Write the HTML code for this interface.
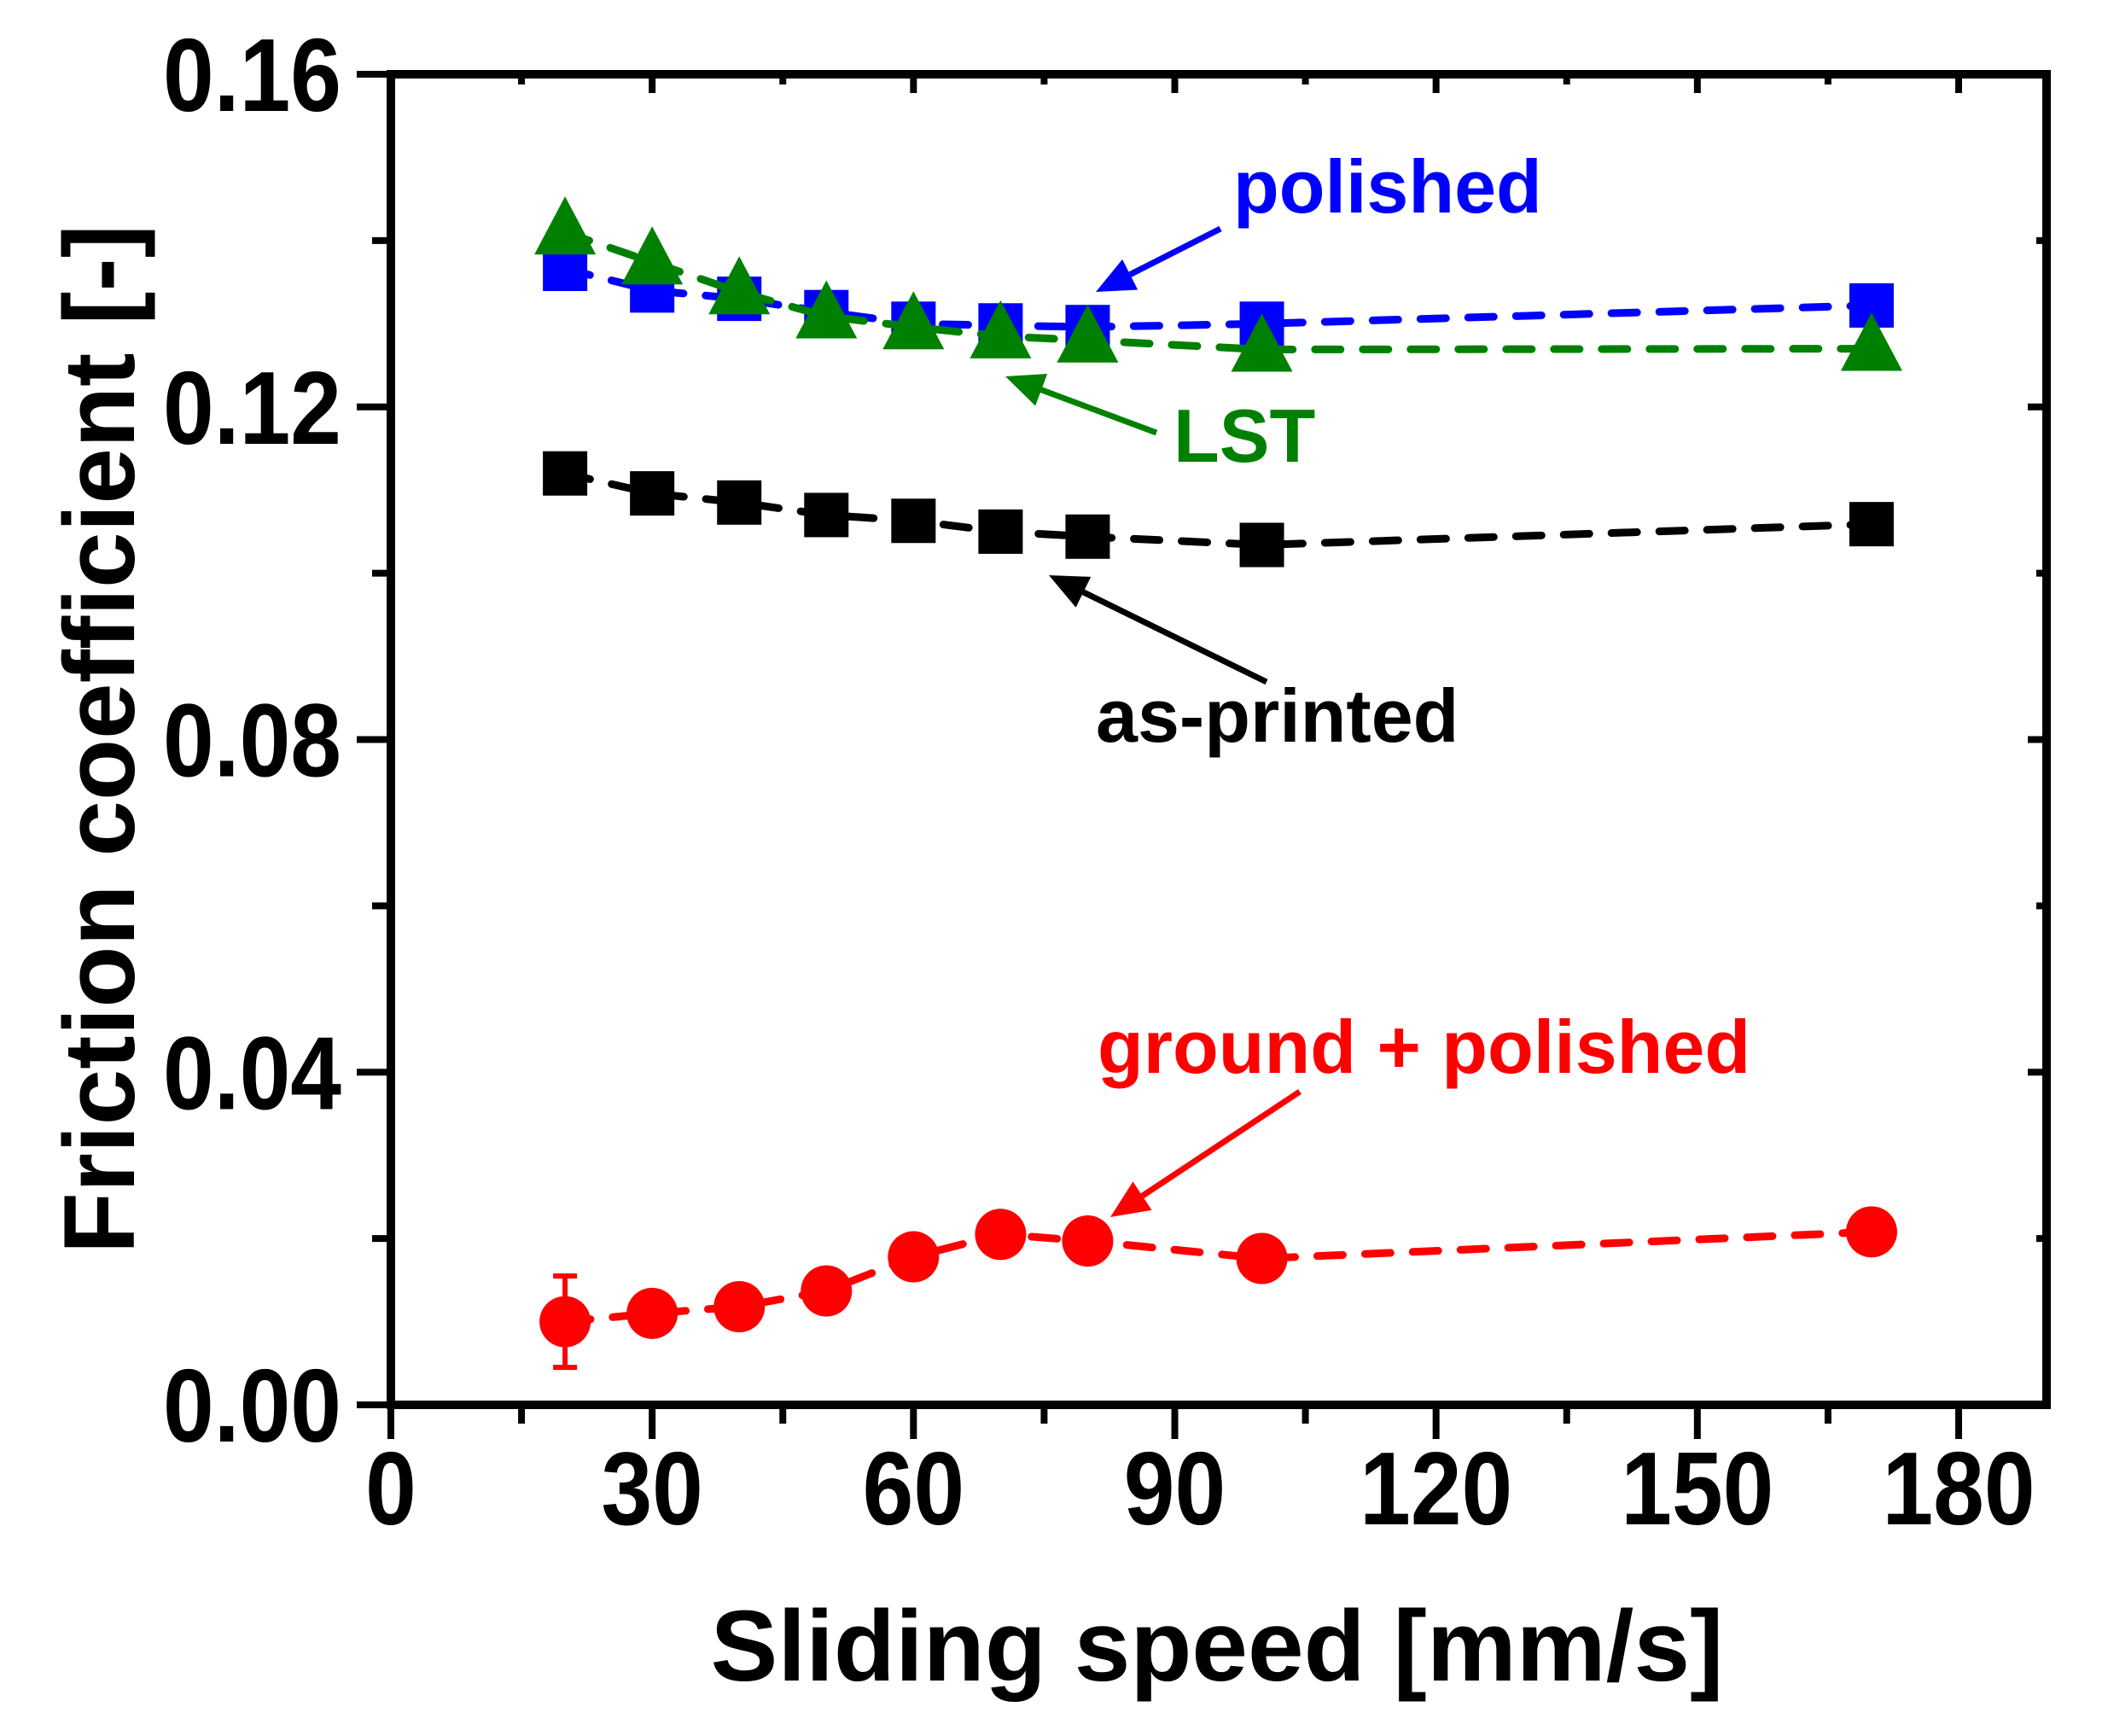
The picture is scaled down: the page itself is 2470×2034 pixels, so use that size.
<!DOCTYPE html>
<html><head><meta charset="utf-8"><style>
html,body{margin:0;padding:0;background:#fff}
svg{display:block}
text{font-family:"Liberation Sans",Arial,sans-serif;font-weight:bold}
</style></head><body>
<svg id="chart" width="2470" height="2034" viewBox="0 0 2470 2034" xmlns="http://www.w3.org/2000/svg">
<g id="marks"></g>
<g id="axes"></g>
<text x="1426" y="1969" font-size="118" text-anchor="middle">Sliding speed [mm/s]</text>
<text transform="translate(157,866) rotate(-90)" font-size="118" text-anchor="middle">Friction coefficient [-]</text>
<text x="1445" y="249" font-size="88" fill="#0000ff">polished</text>
<text x="1375" y="541" font-size="88" fill="#008000">LST</text>
<text x="1284" y="869" font-size="88" fill="#000">as-printed</text>
<text x="1286" y="1257" font-size="88" fill="#ff0000">ground + polished</text>
</svg>
<script>
const speeds=[20,30,40,50,60,70,80,100,170];
const asPrinted=[0.112,0.1096,0.1085,0.107,0.1063,0.105,0.1044,0.1034,0.1059];
const polished=[0.1366,0.134,0.133,0.1314,0.130,0.1298,0.1296,0.130,0.1322];
const lst=[0.141,0.1374,0.1338,0.1309,0.1296,0.1285,0.128,0.1269,0.127];
const groundPolished=[0.010,0.011,0.0118,0.0137,0.0178,0.0205,0.0197,0.0176,0.0208];
const groundErr=[0.0055,0,0,0,0,0,0,0,0];
const xTicks=[0,30,60,90,120,150,180];
const yTicks=[0,0.04,0.08,0.12,0.16];
const yTickLabels=["0.00","0.04","0.08","0.12","0.16"];

const NS="http://www.w3.org/2000/svg";
const X0=458,X1=2398,Y0=1646,Y1=87;
const xs=v=>X0+v*(2295-458)/180;
const ys=v=>Y0-v*(Y0-Y1)/0.16;
function mk(tag,attrs,parent){const e=document.createElementNS(NS,tag);for(const k in attrs)e.setAttribute(k,attrs[k]);parent.appendChild(e);return e;}
const marks=document.getElementById('marks'),axes=document.getElementById('axes');

function series(name,vals,color,shape){
  const g=mk('g',{},marks);
  
  
  const pts=speeds.map((s,i)=>xs(s)+','+ys(vals[i])).join(' ');
  const ln=mk('polyline',{points:pts,fill:'none',stroke:color,'stroke-width':9,'stroke-dasharray':'30,26','stroke-linecap':'round'},g);
  
  
  speeds.forEach((s,i)=>{
    const cx=xs(s),cy=ys(vals[i]);let m;
    if(shape==='square')m=mk('rect',{x:cx-26,y:cy-26,width:52,height:52,fill:color},g);
    else if(shape==='tri')m=mk('polygon',{points:`${cx},${cy-42} ${cx-36},${cy+26} ${cx+36},${cy+26}`,fill:color},g);
    else m=mk('circle',{cx:cx,cy:cy,r:30,fill:color},g);
    
    
  });
}
series('as-printed',asPrinted,'#000','square');
series('polished',polished,'#0000ff','square');
series('lst',lst,'#008000','tri');
series('ground-polished',groundPolished,'#ff0000','circle');
groundErr.forEach((e,i)=>{if(!e)return;const x=xs(speeds[i]);
  const eb=mk('path',{d:`M${x},${ys(groundPolished[i]-e)}V${ys(groundPolished[i]+e)}M${x-14},${ys(groundPolished[i]-e)}H${x+14}M${x-14},${ys(groundPolished[i]+e)}H${x+14}`,stroke:'#ff0000','stroke-width':6,fill:'none'},marks);
  
  
});

function arrow(name,x1,y1,x2,y2,color){
  const g=mk('g',{},marks);
  
  
  const dx=x2-x1,dy=y2-y1,L=Math.hypot(dx,dy),ux=dx/L,uy=dy/L,hl=45,hw=20;
  const bx=x2-ux*hl,by=y2-uy*hl;
  mk('line',{x1:x1,y1:y1,x2:bx,y2:by,stroke:color,'stroke-width':7},g);
  mk('polygon',{points:`${x2},${y2} ${bx-uy*hw},${by+ux*hw} ${bx+uy*hw},${by-ux*hw}`,fill:color},g);
}
arrow('arrow-polished',1430,268,1284,342,'#0000ff');
arrow('arrow-lst',1355,507,1178,441,'#008000');
arrow('arrow-as-printed',1484,799,1229,674,'#000');
arrow('arrow-ground-polished',1523,1279,1301,1426,'#ff0000');

const fr=mk('rect',{x:X0,y:Y1,width:X1-X0,height:Y0-Y1,fill:'none',stroke:'#000','stroke-width':10},axes);


for(let v=0;v<=180;v+=15){const x=xs(v),maj=v%30===0;
  const t=mk('line',{x1:x,y1:Y0,x2:x,y2:Y0+(maj?40:22),stroke:'#000','stroke-width':8},axes);
  
  
  if(v>0){const t2=mk('line',{x1:x,y1:Y1,x2:x,y2:Y1+(maj?22:12),stroke:'#000','stroke-width':8},axes);
  
  }
}
xTicks.forEach(v=>{const t=mk('text',{transform:`translate(${xs(v)},1786) scale(0.88,1)`,'font-size':122,'text-anchor':'middle'},axes);t.textContent=v;
  
  });
for(let k=0;k<=8;k++){const v=k*0.02,y=ys(v),maj=k%2===0;
  const t=mk('line',{x1:X0-(maj?40:22),y1:y,x2:X0,y2:y,stroke:'#000','stroke-width':8},axes);
  
  
  const t2=mk('line',{x1:X1,y1:y,x2:X1-(maj?22:12),y2:y,stroke:'#000','stroke-width':8},axes);
  
  
}
yTicks.forEach((v,i)=>{const t=mk('text',{transform:`translate(400,${ys(v)+43}) scale(0.88,1)`,'font-size':122,'text-anchor':'end'},axes);t.textContent=yTickLabels[i];
  
  });
</script>
</body></html>
